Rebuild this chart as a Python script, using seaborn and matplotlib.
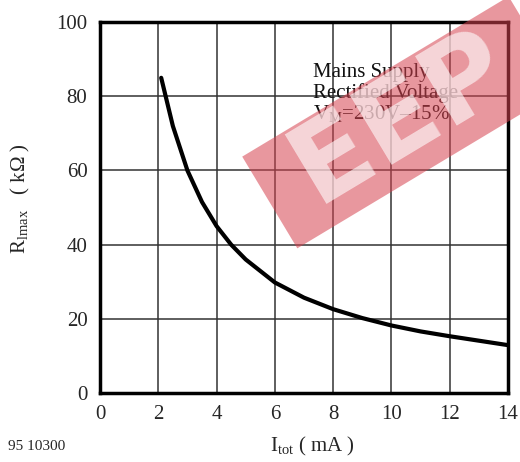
import pandas as pd
import matplotlib.pyplot as plt
import seaborn as sns

sns.set_style('white')
plt.rcParams['font.family'] = ['Liberation Serif', 'DejaVu Serif']
plt.rcParams['mathtext.fontset'] = 'custom'
plt.rcParams['mathtext.rm'] = 'Liberation Serif'
plt.rcParams['mathtext.it'] = 'Liberation Serif:italic'

# Itot (mA) vs R1max (kOhm)
i_tot = [2.1, 2.5, 3.0, 3.5, 4.0, 4.5, 5.0, 6.0, 7.0, 8.0, 9.0, 10.0, 11.0, 12.0, 13.0, 14.0]
r_max = [85.0, 72.0, 60.0, 51.5, 45.0, 40.0, 36.0, 29.8, 25.7, 22.6, 20.2, 18.2, 16.6, 15.3, 14.1, 12.9]
x_ticks = [0, 2, 4, 6, 8, 10, 12, 14]
y_ticks = [0, 20, 40, 60, 80, 100]

df = pd.DataFrame({'Itot': i_tot, 'R': r_max})

fig = plt.figure(figsize=(5.2, 4.62), dpi=100)
ax = fig.add_axes([0.1923, 0.1494, 0.7847, 0.8026])

sns.lineplot(data=df, x='Itot', y='R', color='black', linewidth=3, ax=ax)

ax.set_xlim(0, 14)
ax.set_ylim(0, 100)
ax.set_xticks(x_ticks)
ax.set_yticks(y_ticks)
ax.tick_params(labelsize=15, length=0, pad=9)
ax.grid(True, color='#333333', linewidth=1.1)
for s in ax.spines.values():
    s.set_linewidth(2.5)
    s.set_color('black')

ax.set_xlabel('')
ax.set_ylabel('')
fig.text(0.600, 0.033, r'I$_{\mathrm{tot}}$ ( mA )', fontsize=15, ha='center', va='center')
fig.text(0.04, 0.57, r'R$_{\mathrm{lmax}}$   ( k$\Omega$ )', fontsize=15,
         rotation=90, ha='center', va='center')
fig.text(0.015, 0.033, '95 10300', fontsize=11, ha='left', va='center')

ax.text(7.3, 89, 'Mains Supply\nRectified Voltage\nV$_{\\mathrm{M}}$=230V\u201315%',
        fontsize=15, color='#111111', ha='left', va='top', linespacing=1.05)

# 水印 (semi-transparent, drawn on top)
fig.text(0.775, 0.735, ' EEP ', rotation=31, fontsize=80, fontweight='heavy',
         family='DejaVu Sans', color=(1, 1, 1, 0.6), ha='center', va='center', zorder=10,
         bbox=dict(boxstyle='square,pad=0.0', facecolor=(0.84, 0.26, 0.31, 0.55),
                   edgecolor='none'))

fig.savefig('out.png', dpi=100)
